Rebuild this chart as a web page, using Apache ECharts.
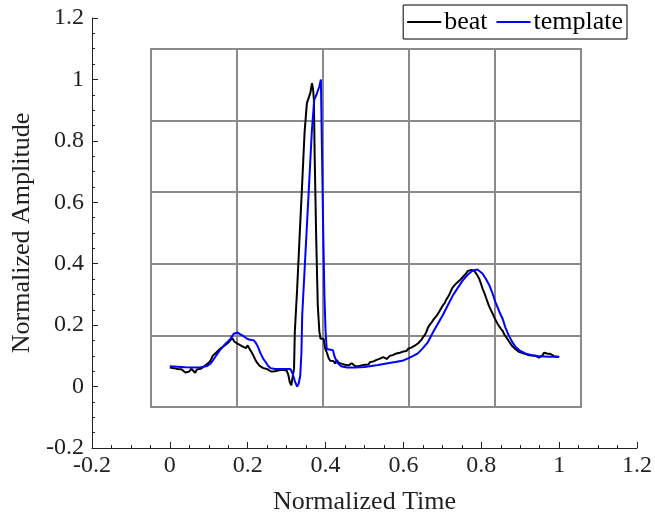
<!DOCTYPE html>
<html>
<head>
<meta charset="utf-8">
<script src="https://cdn.jsdelivr.net/npm/echarts@6/dist/echarts.min.js"></script>
<style>
  html, body { margin: 0; padding: 0; background: #fff; }
  #chart { width: 655px; height: 520px; }
</style>
</head>
<body>
<div id="chart"></div>
<script>
// beat (black, noisy)
var beatX = [0.000,0.005,0.010,0.015,0.020,0.025,0.030,0.035,0.040,0.045,0.050,0.055,0.060,0.065,0.070,0.075,0.080,0.085,0.090,0.095,
  0.100,0.105,0.110,0.115,0.120,0.125,0.130,0.135,0.140,0.145,0.150,0.155,0.160,0.163,0.166,0.170,0.175,0.180,0.185,0.190,
  0.195,0.200,0.205,0.210,0.215,0.220,0.225,0.230,0.235,0.240,0.245,0.250,0.255,0.260,0.265,0.270,0.275,0.280,0.285,0.290,
  0.295,0.300,0.304,0.308,0.312,0.316,0.319,0.321,0.327,0.333,0.340,0.346,0.352,0.355,0.358,0.361,0.365,0.368,0.370,0.372,
  0.376,0.380,0.384,0.387,0.391,0.395,0.399,0.404,0.408,0.412,0.416,0.420,0.425,0.429,0.433,0.438,0.442,0.446,0.450,0.455,
  0.459,0.463,0.467,0.472,0.476,0.480,0.484,0.488,0.492,0.497,0.501,0.505,0.510,0.514,0.518,0.523,0.527,0.531,0.535,0.540,
  0.544,0.548,0.553,0.557,0.561,0.565,0.570,0.574,0.578,0.582,0.587,0.591,0.595,0.599,0.604,0.608,0.612,0.616,0.620,0.625,
  0.629,0.633,0.638,0.642,0.646,0.650,0.655,0.659,0.663,0.667,0.672,0.676,0.680,0.685,0.689,0.693,0.697,0.701,0.706,0.710,
  0.714,0.718,0.723,0.727,0.731,0.735,0.740,0.744,0.748,0.752,0.757,0.761,0.765,0.769,0.774,0.778,0.782,0.786,0.790,0.795,
  0.799,0.803,0.808,0.812,0.816,0.820,0.825,0.829,0.833,0.838,0.842,0.846,0.850,0.855,0.859,0.863,0.867,0.872,0.876,0.880,
  0.884,0.889,0.893,0.897,0.901,0.906,0.910,0.914,0.918,0.923,0.927,0.931,0.935,0.940,0.944,0.948,0.952,0.957,0.961,0.965,
  0.969,0.974,0.978,0.982,0.987,0.991,0.995,1.000];
var beatY = [0.062,0.058,0.060,0.055,0.057,0.052,0.056,0.050,0.046,0.051,0.049,0.058,0.055,0.045,0.056,0.060,0.058,0.064,0.068,0.072,
  0.078,0.085,0.100,0.106,0.112,0.118,0.124,0.127,0.133,0.136,0.143,0.147,0.158,0.152,0.146,0.148,0.139,0.140,0.132,0.130,
  0.125,0.134,0.122,0.112,0.100,0.086,0.076,0.068,0.062,0.060,0.056,0.057,0.052,0.049,0.046,0.050,0.048,0.053,0.052,0.055,
  0.050,0.052,0.040,0.015,0.004,0.006,0.060,0.178,0.318,0.480,0.664,0.826,0.923,0.934,0.929,0.956,0.988,0.967,0.934,0.750,
  0.480,0.264,0.180,0.156,0.151,0.156,0.124,0.108,0.092,0.084,0.079,0.083,0.075,0.086,0.078,0.081,0.074,0.076,0.071,0.074,
  0.069,0.073,0.076,0.070,0.067,0.071,0.066,0.072,0.069,0.075,0.071,0.077,0.072,0.079,0.076,0.082,0.080,0.087,0.085,0.091,
  0.089,0.096,0.099,0.090,0.093,0.100,0.096,0.103,0.101,0.108,0.106,0.110,0.108,0.114,0.118,0.116,0.123,0.121,0.127,0.128,
  0.133,0.135,0.141,0.147,0.152,0.160,0.168,0.178,0.192,0.200,0.208,0.216,0.222,0.230,0.238,0.246,0.255,0.264,0.272,0.283,
  0.291,0.300,0.314,0.324,0.330,0.335,0.341,0.345,0.350,0.356,0.362,0.368,0.376,0.374,0.380,0.379,0.377,0.371,0.362,0.350,
  0.336,0.320,0.304,0.290,0.276,0.262,0.248,0.238,0.226,0.214,0.204,0.196,0.189,0.181,0.170,0.163,0.155,0.146,0.138,0.131,
  0.127,0.121,0.119,0.113,0.111,0.109,0.104,0.106,0.101,0.102,0.099,0.101,0.098,0.100,0.096,0.094,0.097,0.101,0.110,0.104,
  0.108,0.102,0.106,0.103,0.099,0.100,0.097,0.096];

// template (blue, smooth)
var templateX = [0.000,0.040,0.076,0.096,0.105,0.112,0.120,0.127,0.135,0.145,0.152,0.158,0.164,0.168,0.174,0.180,0.188,0.196,0.203,0.210,
  0.216,0.221,0.226,0.233,0.240,0.246,0.252,0.259,0.270,0.290,0.310,0.316,0.321,0.327,0.331,0.335,0.338,0.340,0.348,0.357,
  0.365,0.371,0.375,0.380,0.384,0.388,0.391,0.394,0.397,0.400,0.403,0.408,0.419,0.423,0.430,0.440,0.455,0.476,0.500,0.535,
  0.560,0.579,0.600,0.612,0.625,0.637,0.650,0.663,0.676,0.688,0.701,0.714,0.727,0.740,0.752,0.765,0.778,0.790,0.803,0.812,
  0.821,0.829,0.836,0.847,0.855,0.862,0.871,0.880,0.889,0.898,0.913,0.930,0.949,0.975,1.000];
var templateY = [0.066,0.063,0.062,0.067,0.075,0.088,0.103,0.116,0.128,0.142,0.150,0.160,0.172,0.178,0.176,0.171,0.165,0.158,0.153,0.152,
  0.150,0.142,0.130,0.108,0.090,0.080,0.068,0.060,0.057,0.057,0.057,0.040,0.018,0.000,0.010,0.037,0.110,0.232,0.426,0.642,
  0.837,0.935,0.945,0.951,0.977,1.000,0.750,0.500,0.300,0.180,0.122,0.118,0.118,0.098,0.078,0.066,0.062,0.062,0.064,0.070,
  0.076,0.080,0.085,0.092,0.100,0.108,0.125,0.145,0.177,0.204,0.232,0.265,0.297,0.322,0.345,0.364,0.378,0.381,0.368,0.350,
  0.329,0.303,0.276,0.242,0.220,0.192,0.165,0.144,0.128,0.118,0.108,0.102,0.099,0.097,0.097];

var legendNames = ['beat', 'template'];
var xName = 'Normalized Time';
var yName = 'Normalized Amplitude';

var font = 'Liberation Serif';
var chart = echarts.init(document.getElementById('chart'));

function pairs(xs, ys) {
  return xs.map(function (x, i) { return [x, ys[i]]; });
}

// main axes (ticks, labels)
var mainAxis = {
  min: -0.2, max: 1.2, interval: 0.2,
  axisLine: { show: true, onZero: false, lineStyle: { color: '#222', width: 1 } },
  axisTick: { show: true, inside: true, length: 6, lineStyle: { color: '#222' } },
  minorTick: { show: true, splitNumber: 4, length: 3, lineStyle: { color: '#222' } },
  splitLine: { show: false },
  nameLocation: 'middle',
  nameTextStyle: { fontFamily: font, fontSize: 26, color: '#222' }
};

// inner grey box with 5x5 cells
var boxAxis = {
  min: 0, max: 5, interval: 1,
  axisLine: { show: false }, axisTick: { show: false }, axisLabel: { show: false },
  splitLine: { show: true, lineStyle: { color: '#8a8a8a', width: 2 } }
};

var option = {
  animation: false,
  backgroundColor: '#fff',
  grid: [
    { left: 92, right: 14, top: 18, bottom: 67 },
    { left: 151, top: 49, width: 430, height: 358, show: true, borderColor: '#8a8a8a', borderWidth: 2, backgroundColor: 'transparent' }
  ],
  legend: {
    data: legendNames,
    right: 28, top: 5,
    icon: 'rect',
    itemWidth: 34, itemHeight: 2, itemGap: 9,
    padding: [4, 4, 4, 4],
    borderColor: '#000', borderWidth: 1, backgroundColor: '#fff',
    textStyle: { fontFamily: font, fontSize: 26, color: '#000', padding: [0, 0, 0, -2] }
  },
  xAxis: [
    Object.assign({}, mainAxis, {
      type: 'value', gridIndex: 0, name: xName, nameGap: 41,
      axisLabel: { fontFamily: font, fontSize: 24, color: '#222', margin: 6 }
    }),
    Object.assign({}, boxAxis, { type: 'value', gridIndex: 1 })
  ],
  yAxis: [
    Object.assign({}, mainAxis, {
      type: 'value', gridIndex: 0, name: yName, nameGap: 57,
      axisLabel: { fontFamily: font, fontSize: 24, color: '#222', margin: 8 }
    }),
    Object.assign({}, boxAxis, { type: 'value', gridIndex: 1 })
  ],
  series: [
    {
      name: legendNames[0], type: 'line', xAxisIndex: 0, yAxisIndex: 0,
      symbol: 'none', color: '#000', lineStyle: { color: '#000', width: 2 },
      data: pairs(beatX, beatY), z: 3
    },
    {
      name: legendNames[1], type: 'line', xAxisIndex: 0, yAxisIndex: 0,
      symbol: 'none', color: '#0000ff', lineStyle: { color: '#0000ff', width: 2 },
      data: pairs(templateX, templateY), z: 4
    }
  ]
};
chart.setOption(option);
</script>
</body>
</html>
